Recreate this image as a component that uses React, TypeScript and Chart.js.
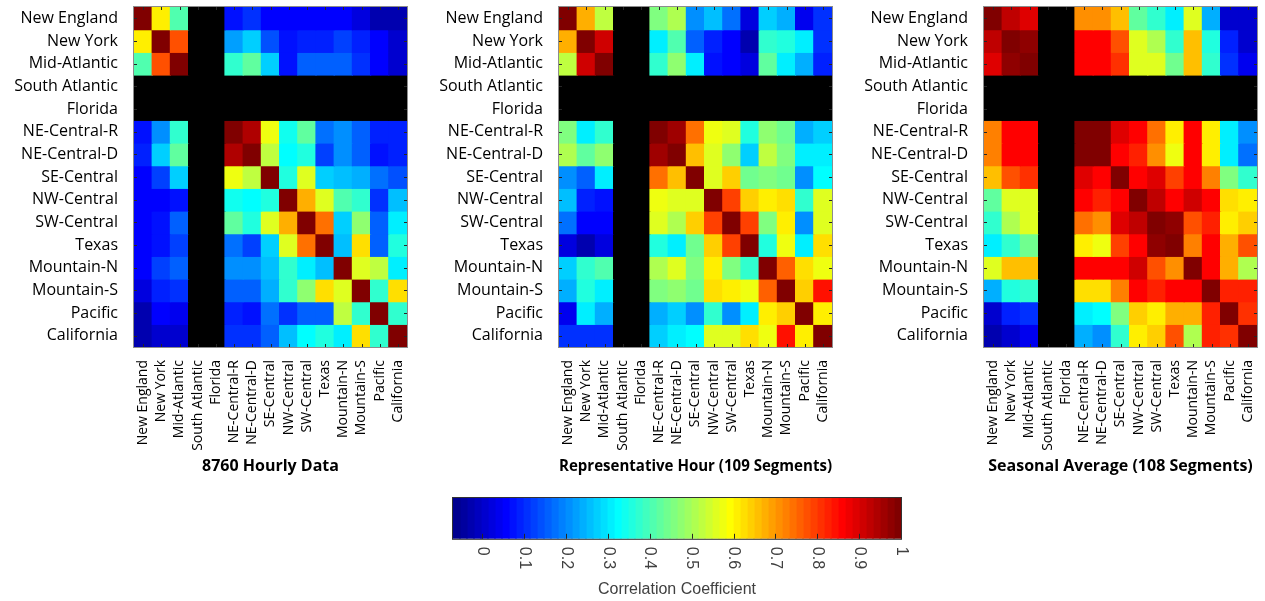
import React, { useEffect, useRef } from 'react';
import { Chart, registerables } from 'chart.js';

Chart.register(...registerables);

const REGIONS = [
  'New England', 'New York', 'Mid-Atlantic', 'South Atlantic', 'Florida',
  'NE-Central-R', 'NE-Central-D', 'SE-Central', 'NW-Central', 'SW-Central',
  'Texas', 'Mountain-N', 'Mountain-S', 'Pacific', 'California',
];

const TITLES = [
  '8760 Hourly Data',
  'Representative Hour (109 Segments)',
  'Seasonal Average (108 Segments)',
];

const N = null;
const EMPTY_ROW = [N, N, N, N, N, N, N, N, N, N, N, N, N, N, N];

const HOURLY_8760 = [
  [1.00, 0.60, 0.40, N, N, 0.07, 0.10, 0.05, 0.06, 0.06, 0.05, 0.05, 0.03, -0.02, -0.03],
  [0.60, 1.00, 0.77, N, N, 0.22, 0.28, 0.14, 0.08, 0.09, 0.09, 0.13, 0.09, 0.06, 0.01],
  [0.40, 0.77, 1.00, N, N, 0.38, 0.42, 0.28, 0.08, 0.15, 0.15, 0.15, 0.11, 0.05, 0.01],
  EMPTY_ROW,
  EMPTY_ROW,
  [0.08, 0.20, 0.38, N, N, 1.00, 0.94, 0.58, 0.34, 0.42, 0.17, 0.20, 0.15, 0.09, 0.09],
  [0.09, 0.28, 0.42, N, N, 0.94, 1.00, 0.53, 0.33, 0.35, 0.13, 0.20, 0.15, 0.08, 0.09],
  [0.06, 0.13, 0.28, N, N, 0.58, 0.53, 1.00, 0.35, 0.56, 0.28, 0.26, 0.24, 0.17, 0.14],
  [0.06, 0.06, 0.08, N, N, 0.34, 0.33, 0.35, 1.00, 0.68, 0.56, 0.40, 0.38, 0.11, 0.26],
  [0.06, 0.08, 0.15, N, N, 0.42, 0.35, 0.55, 0.68, 1.00, 0.74, 0.28, 0.48, 0.15, 0.31],
  [0.06, 0.08, 0.13, N, N, 0.17, 0.13, 0.28, 0.56, 0.74, 1.00, 0.26, 0.62, 0.15, 0.35],
  [0.06, 0.13, 0.15, N, N, 0.20, 0.21, 0.26, 0.38, 0.30, 0.26, 1.00, 0.55, 0.53, 0.30],
  [0.03, 0.09, 0.11, N, N, 0.15, 0.15, 0.24, 0.38, 0.48, 0.62, 0.55, 1.00, 0.37, 0.62],
  [-0.02, 0.06, 0.04, N, N, 0.09, 0.08, 0.17, 0.11, 0.15, 0.15, 0.53, 0.37, 1.00, 0.37],
  [-0.03, 0.00, 0.01, N, N, 0.10, 0.10, 0.15, 0.26, 0.33, 0.35, 0.30, 0.62, 0.37, 1.00],
];

const REPRESENTATIVE_HOUR = [
  [1.00, 0.68, 0.53, N, N, 0.46, 0.50, 0.20, 0.26, 0.17, 0.03, 0.28, 0.24, 0.04, 0.11],
  [0.68, 1.00, 0.90, N, N, 0.31, 0.40, 0.15, 0.09, 0.06, -0.02, 0.38, 0.35, 0.31, 0.11],
  [0.53, 0.90, 1.00, N, N, 0.38, 0.48, 0.30, 0.08, 0.06, 0.02, 0.42, 0.30, 0.24, 0.09],
  EMPTY_ROW,
  EMPTY_ROW,
  [0.46, 0.31, 0.38, N, N, 1.00, 0.95, 0.74, 0.58, 0.55, 0.35, 0.48, 0.44, 0.24, 0.28],
  [0.50, 0.42, 0.48, N, N, 0.95, 1.00, 0.66, 0.56, 0.48, 0.28, 0.53, 0.46, 0.30, 0.31],
  [0.20, 0.15, 0.30, N, N, 0.74, 0.66, 1.00, 0.55, 0.64, 0.44, 0.46, 0.44, 0.21, 0.33],
  [0.26, 0.09, 0.08, N, N, 0.58, 0.56, 0.55, 1.00, 0.79, 0.64, 0.60, 0.62, 0.37, 0.55],
  [0.17, 0.05, 0.06, N, N, 0.55, 0.50, 0.64, 0.79, 1.00, 0.79, 0.46, 0.60, 0.21, 0.56],
  [0.02, -0.02, 0.02, N, N, 0.35, 0.30, 0.44, 0.64, 0.79, 1.00, 0.35, 0.58, 0.31, 0.62],
  [0.28, 0.38, 0.40, N, N, 0.50, 0.55, 0.46, 0.60, 0.46, 0.37, 1.00, 0.76, 0.62, 0.58],
  [0.24, 0.35, 0.30, N, N, 0.46, 0.48, 0.44, 0.62, 0.60, 0.58, 0.76, 1.00, 0.64, 0.84],
  [0.04, 0.31, 0.24, N, N, 0.24, 0.28, 0.21, 0.37, 0.21, 0.31, 0.61, 0.64, 1.00, 0.61],
  [0.11, 0.11, 0.11, N, N, 0.28, 0.31, 0.33, 0.55, 0.56, 0.62, 0.58, 0.84, 0.61, 1.00],
];

const SEASONAL_AVERAGE = [
  [1.00, 0.92, 0.89, N, N, 0.70, 0.70, 0.66, 0.42, 0.38, 0.31, 0.55, 0.24, 0.00, 0.00],
  [0.92, 1.00, 0.97, N, N, 0.85, 0.86, 0.77, 0.55, 0.50, 0.37, 0.66, 0.35, 0.09, 0.00],
  [0.89, 0.97, 1.00, N, N, 0.86, 0.86, 0.81, 0.56, 0.55, 0.44, 0.66, 0.37, 0.11, 0.04],
  EMPTY_ROW,
  EMPTY_ROW,
  [0.72, 0.85, 0.86, N, N, 1.00, 1.00, 0.89, 0.85, 0.74, 0.61, 0.85, 0.61, 0.31, 0.21],
  [0.72, 0.86, 0.86, N, N, 1.00, 1.00, 0.86, 0.83, 0.70, 0.58, 0.86, 0.61, 0.31, 0.17],
  [0.66, 0.77, 0.81, N, N, 0.89, 0.86, 1.00, 0.85, 0.89, 0.79, 0.85, 0.72, 0.46, 0.37],
  [0.42, 0.55, 0.56, N, N, 0.85, 0.83, 0.85, 1.00, 0.92, 0.85, 0.90, 0.86, 0.62, 0.60],
  [0.38, 0.50, 0.55, N, N, 0.74, 0.70, 0.89, 0.92, 1.00, 0.97, 0.77, 0.83, 0.61, 0.64],
  [0.31, 0.37, 0.44, N, N, 0.61, 0.58, 0.79, 0.85, 0.97, 1.00, 0.72, 0.85, 0.68, 0.77],
  [0.55, 0.66, 0.66, N, N, 0.85, 0.85, 0.85, 0.90, 0.77, 0.70, 1.00, 0.85, 0.68, 0.50],
  [0.24, 0.35, 0.37, N, N, 0.62, 0.62, 0.72, 0.86, 0.83, 0.85, 0.86, 1.00, 0.83, 0.83],
  [0.00, 0.09, 0.11, N, N, 0.31, 0.33, 0.46, 0.64, 0.61, 0.68, 0.68, 0.83, 1.00, 0.81],
  [-0.02, 0.01, 0.04, N, N, 0.24, 0.20, 0.37, 0.60, 0.64, 0.77, 0.50, 0.83, 0.81, 1.00],
];

const MATRICES = [HOURLY_8760, REPRESENTATIVE_HOUR, SEASONAL_AVERAGE];

const COLOR_MIN = -0.07;
const COLOR_MAX = 1.0;
const COLORBAR_TICKS = [0, 0.1, 0.2, 0.3, 0.4, 0.5, 0.6, 0.7, 0.8, 0.9, 1];
const COLORBAR_LABELS = ['0', '0.1', '0.2', '0.3', '0.4', '0.5', '0.6', '0.7', '0.8', '0.9', '1'];
const COLORBAR_TITLE = 'Correlation Coefficient';

// MATLAB-style jet(64) colormap
function jetColormap(m: number): string[] {
  const n = Math.ceil(m / 4);
  const u: number[] = [];
  for (let i = 1; i <= n; i++) u.push(i / n);
  for (let i = 0; i < n - 1; i++) u.push(1);
  for (let i = n; i >= 1; i--) u.push(i / n);
  const J = Array.from({ length: m }, () => [0, 0, 0]);
  const g0 = Math.ceil(n / 2) - (m % 4 === 1 ? 1 : 0);
  u.forEach((val, k) => {
    const g = g0 + k;
    const r = g + n;
    const b = g - n;
    if (g >= 0 && g < m) J[g][1] = val;
    if (r >= 0 && r < m) J[r][0] = val;
    if (b >= 0 && b < m) J[b][2] = val;
  });
  return J.map(([r, g, b]) => `rgb(${Math.round(r * 255)},${Math.round(g * 255)},${Math.round(b * 255)})`);
}

const JET = jetColormap(64);

function colorOf(v: number | null): string {
  if (v === null || v === undefined) return '#000000';
  let idx = Math.floor(((v - COLOR_MIN) / (COLOR_MAX - COLOR_MIN)) * JET.length);
  idx = Math.max(0, Math.min(JET.length - 1, idx));
  return JET[idx];
}

const FONT = "'Open Sans', 'Noto Sans', sans-serif";
const CB_FONT = "'Liberation Sans', Arial, sans-serif";

const heatFrame = {
  id: 'heatFrame',
  afterDatasetsDraw(chart: any) {
    const { ctx, chartArea: a, scales } = chart;
    ctx.save();
    ctx.strokeStyle = '#262626';
    ctx.lineWidth = 1;
    const tl = 3;
    ctx.beginPath();
    REGIONS.forEach((_, i) => {
      const x = Math.round(scales.x.getPixelForValue(i)) + 0.5;
      ctx.moveTo(x, a.top);
      ctx.lineTo(x, a.top + tl);
      ctx.moveTo(x, a.bottom);
      ctx.lineTo(x, a.bottom - tl);
      const y = Math.round(scales.y.getPixelForValue(i + 0.5)) + 0.5;
      ctx.moveTo(a.left, y);
      ctx.lineTo(a.left + tl, y);
      ctx.moveTo(a.right, y);
      ctx.lineTo(a.right - tl, y);
    });
    ctx.stroke();
    ctx.strokeStyle = '#8c8c8c';
    ctx.strokeRect(a.left - 0.5, a.top - 0.5, a.right - a.left + 1, a.bottom - a.top + 1);
    ctx.restore();
  },
};

function heatmapConfig(matrix: (number | null)[][], title: string): any {
  return {
    type: 'bar',
    data: {
      labels: REGIONS,
      datasets: matrix.map((row, r) => ({
        label: REGIONS[r],
        data: row.map(() => 1),
        backgroundColor: row.map((v) => colorOf(v)),
        borderWidth: 0,
        barPercentage: 1,
        categoryPercentage: 1,
        inflateAmount: 0.6,
      })),
    },
    options: {
      responsive: false,
      animation: false,
      events: [],
      layout: { padding: { top: 7, left: 0, right: 8, bottom: 0 } },
      plugins: {
        legend: { display: false },
        tooltip: { enabled: false },
        title: {
          display: true,
          text: title,
          position: 'bottom',
          fullSize: false,
          color: '#000',
          font: { family: FONT, size: 16, weight: 'bold', lineHeight: 1.2 },
          padding: { top: 0, bottom: 8.8 },
        },
      },
      scales: {
        x: {
          type: 'category',
          stacked: true,
          grid: { display: false, drawTicks: false },
          border: { display: false },
          ticks: {
            autoSkip: false,
            minRotation: 90,
            maxRotation: 90,
            padding: 13,
            color: '#000',
            font: { family: FONT, size: 14 },
          },
          afterFit: (s: any) => {
            s.height = 110;
            s.paddingLeft = 0;
            s.paddingRight = 0;
          },
        },
        y: {
          type: 'linear',
          stacked: true,
          reverse: true,
          min: 0,
          max: REGIONS.length,
          grid: { display: false, drawTicks: false },
          border: { display: false },
          afterBuildTicks: (s: any) => {
            s.ticks = REGIONS.map((_, i) => ({ value: i + 0.5 }));
          },
          ticks: {
            autoSkip: false,
            padding: 16,
            color: '#000',
            font: { family: FONT, size: 16 },
            callback: (v: number) => REGIONS[Math.floor(v)],
          },
          afterFit: (s: any) => {
            s.width = 134;
            s.paddingTop = 0;
            s.paddingBottom = 0;
          },
        },
      },
    },
    plugins: [heatFrame],
  };
}

const colorbarDecor = {
  id: 'colorbarDecor',
  afterDraw(chart: any) {
    const { ctx, chartArea: a, scales } = chart;
    ctx.save();
    ctx.strokeStyle = '#262626';
    ctx.lineWidth = 1;
    ctx.beginPath();
    COLORBAR_TICKS.forEach((v) => {
      const x = Math.round(scales.x.getPixelForValue(v)) + 0.5;
      ctx.moveTo(x, a.bottom);
      ctx.lineTo(x, a.bottom - 5);
    });
    ctx.stroke();
    ctx.strokeStyle = '#333';
    ctx.strokeRect(a.left - 0.5, a.top - 0.5, a.right - a.left + 1, a.bottom - a.top + 1);
    ctx.fillStyle = '#404040';
    ctx.font = `16px ${CB_FONT}`;
    ctx.textAlign = 'left';
    ctx.textBaseline = 'middle';
    COLORBAR_TICKS.forEach((v, i) => {
      const x = scales.x.getPixelForValue(v);
      ctx.save();
      ctx.translate(x, a.bottom + 8);
      ctx.rotate(Math.PI / 2);
      ctx.fillText(COLORBAR_LABELS[i], 0, 0);
      ctx.restore();
    });
    ctx.restore();
  },
};

function colorbarConfig(): any {
  const step = (COLOR_MAX - COLOR_MIN) / JET.length;
  return {
    type: 'bar',
    data: {
      labels: [''],
      datasets: JET.map((c, k) => ({
        data: [[COLOR_MIN + k * step, COLOR_MIN + (k + 1) * step]],
        backgroundColor: c,
        borderWidth: 0,
        barPercentage: 1,
        categoryPercentage: 1,
        grouped: false,
        inflateAmount: 0.6,
      })),
    },
    options: {
      indexAxis: 'y',
      responsive: false,
      animation: false,
      events: [],
      layout: { padding: { top: 8, left: 13, right: 19, bottom: 0 } },
      plugins: {
        legend: { display: false },
        tooltip: { enabled: false },
        title: {
          display: true,
          text: COLORBAR_TITLE,
          position: 'bottom',
          fullSize: false,
          color: '#404040',
          font: { family: CB_FONT, size: 16, weight: 'normal', lineHeight: 1.2 },
          padding: { top: 3, bottom: 2 },
        },
      },
      scales: {
        x: {
          type: 'linear',
          min: COLOR_MIN,
          max: COLOR_MAX,
          grid: { display: false, drawTicks: false },
          border: { display: false },
          ticks: { display: false },
          afterFit: (s: any) => {
            s.height = 38;
            s.paddingLeft = 0;
            s.paddingRight = 0;
          },
        },
        y: {
          type: 'category',
          display: false,
        },
      },
    },
    plugins: [colorbarDecor],
  };
}

export default function App() {
  const r0 = useRef<HTMLCanvasElement>(null);
  const r1 = useRef<HTMLCanvasElement>(null);
  const r2 = useRef<HTMLCanvasElement>(null);
  const cb = useRef<HTMLCanvasElement>(null);

  useEffect(() => {
    const refs = [r0, r1, r2];
    const charts: Chart[] = [];
    MATRICES.forEach((m, k) => {
      if (refs[k].current) charts.push(new Chart(refs[k].current as HTMLCanvasElement, heatmapConfig(m, TITLES[k])));
    });
    if (cb.current) charts.push(new Chart(cb.current, colorbarConfig()));
    return () => charts.forEach((c) => c.destroy());
  }, []);

  const canvasStyle = (left: number, top: number): React.CSSProperties => ({
    position: 'absolute',
    left,
    top,
    display: 'block',
  });

  return (
    <div style={{ position: 'absolute', left: 0, top: 0, width: 1265, height: 601, background: '#fff', overflow: 'hidden' }}>
      <canvas ref={r0} width={415} height={485} style={canvasStyle(0, 0)} />
      <canvas ref={r1} width={415} height={485} style={canvasStyle(425, 0)} />
      <canvas ref={r2} width={415} height={485} style={canvasStyle(850, 0)} />
      <canvas ref={cb} width={480} height={111} style={canvasStyle(440, 490)} />
    </div>
  );
}
